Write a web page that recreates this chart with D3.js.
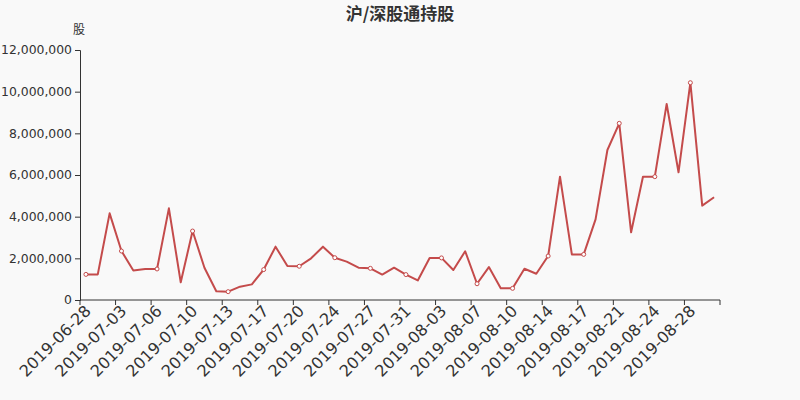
<!DOCTYPE html>
<html><head><meta charset="utf-8">
<script src="https://cdn.jsdelivr.net/npm/d3@7"></script>
<style>
html,body{margin:0;padding:0;background:#f9f9f9;}
svg{display:block;font-family:"DejaVu Sans",sans-serif;}
</style></head>
<body>
<svg id="c" width="800" height="400"></svg>
<script>
const dates = ["2019-06-28","2019-06-29","2019-07-02","2019-07-03","2019-07-04","2019-07-05","2019-07-06","2019-07-08","2019-07-09","2019-07-10","2019-07-11","2019-07-12","2019-07-13","2019-07-15","2019-07-16","2019-07-17","2019-07-18","2019-07-19","2019-07-20","2019-07-22","2019-07-23","2019-07-24","2019-07-25","2019-07-26","2019-07-27","2019-07-29","2019-07-30","2019-07-31","2019-08-01","2019-08-02","2019-08-03","2019-08-05","2019-08-06","2019-08-07","2019-08-08","2019-08-09","2019-08-10","2019-08-12","2019-08-13","2019-08-14","2019-08-15","2019-08-16","2019-08-17","2019-08-19","2019-08-20","2019-08-21","2019-08-22","2019-08-23","2019-08-24","2019-08-26","2019-08-27","2019-08-28","2019-08-29","2019-08-30"];
const holdings = [1230000,1230000,4160000,2350000,1420000,1490000,1490000,4400000,850000,3310000,1550000,420000,400000,640000,750000,1460000,2560000,1630000,1620000,2000000,2560000,2030000,1840000,1550000,1520000,1220000,1550000,1220000,940000,2020000,2020000,1440000,2340000,780000,1580000,560000,560000,1500000,1260000,2110000,5920000,2190000,2190000,3870000,7200000,8480000,3250000,5920000,5920000,9410000,6130000,10430000,4530000,4930000];
const yTicks = [0,2000000,4000000,6000000,8000000,10000000,12000000];
const title = "沪/深股通持股";
const yName = "股";
const labelEvery = 3;

const svg = d3.select("#c");
const color = "#c44b4b";
const axisColor = "#333";
const x = d3.scaleBand().domain(dates).range([80,720]).padding(0);
const y = d3.scaleLinear().domain([0,12000000]).range([300,50]);
const cx = d => x(d) + x.bandwidth()/2;

svg.append("text").attr("x",400).attr("y",20).attr("text-anchor","middle")
  .attr("font-family","'Noto Sans CJK SC',sans-serif").attr("font-weight","bold")
  .attr("font-size",17).attr("fill","#333").text(title);
svg.append("text").attr("x",79).attr("y",34).attr("text-anchor","middle")
  .attr("font-family","'Noto Sans CJK SC',sans-serif")
  .attr("font-size",12).attr("fill","#333").text(yName);

// y axis
const ya = svg.append("g").attr("transform","translate(80,0)")
  .call(d3.axisLeft(y).tickValues(yTicks).tickFormat(d3.format(",")).tickSizeOuter(0).tickSize(5).tickPadding(3));
ya.selectAll("text").attr("font-size",12.4).attr("fill","#333").attr("font-family","'DejaVu Sans',sans-serif");
ya.selectAll("line,path").attr("stroke",axisColor);

// x axis
const xa = svg.append("g");
xa.append("line").attr("x1",x.range()[0]).attr("x2",x.range()[1]).attr("y1",300).attr("y2",300).attr("stroke",axisColor);
const labeled = dates.filter((d,i)=>i%labelEvery===0);
const tickXs = labeled.map(d=>x(d)).concat([x.range()[1]]);
xa.selectAll("line.t").data(tickXs).join("line").attr("class","t")
  .attr("x1",d=>d).attr("x2",d=>d).attr("y1",300).attr("y2",305).attr("stroke",axisColor);
xa.selectAll("text").data(labeled).join("text")
  .attr("transform",d=>`translate(${cx(d)+2},308) rotate(-45)`)
  .attr("text-anchor","end").attr("dy","0.35em")
  .attr("font-size",16).attr("fill","#333").text(d=>d);

// line
const line = d3.line().x((d,i)=>cx(dates[i])).y(d=>y(d));
svg.append("path").datum(holdings).attr("d",line).attr("fill","none")
  .attr("stroke",color).attr("stroke-width",2).attr("stroke-linejoin","round");
svg.selectAll("circle").data(holdings.map((v,i)=>[i,v]).filter(d=>d[0]%labelEvery===0)).join("circle")
  .attr("cx",d=>cx(dates[d[0]])).attr("cy",d=>y(d[1])).attr("r",2)
  .attr("fill","#fff").attr("stroke",color).attr("stroke-width",1);
</script>
</body></html>
